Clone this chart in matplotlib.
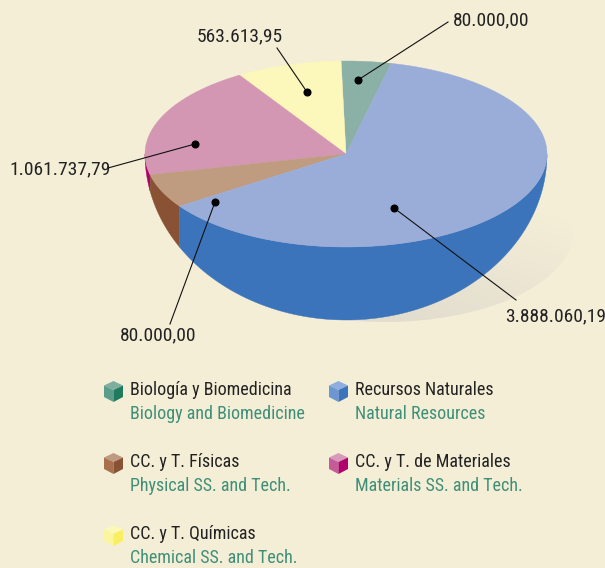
import numpy as np
import matplotlib
matplotlib.use("Agg")
import matplotlib.pyplot as plt
from matplotlib.colors import LinearSegmentedColormap
from matplotlib.patches import Ellipse, Polygon

# slices, counter-clockwise from the right edge of the green one
categories = ["Biología y Biomedicina", "CC. y T. Químicas", "CC. y T. de Materiales",
              "CC. y T. Físicas", "Recursos Naturales"]
categories_en = ["Biology and Biomedicine", "Chemical SS. and Tech.", "Materials SS. and Tech.",
                 "Physical SS. and Tech.", "Natural Resources"]
value_labels = ["80.000,00", "563.613,95", "1.061.737,79", "80.000,00", "3.888.060,19"]
# share of the ellipse as drawn in the picture (%), it does not follow the labels exactly
drawn_share = [4.0, 8.5, 19.7, 5.9, 61.9]
start_angle = 77

top_colors = ["#8BB0A5", "#FCF7BA", "#D497B3", "#BF9B80", "#9AADD8"]
wall_colors = ["#1F7A5E", "#F8F060", "#B0006E", "#8A5235", "#3B74BB"]
cube_top = ["#7EAE9F", "#FCF8B8", "#D79ABB", "#BE9A80", "#8FAEDD"]
cube_left = ["#5C9C8A", "#FBF5A0", "#C45C98", "#A8704F", "#6E96D2"]

BG = "#F4EED7"
CX, CY, RX, RY, RY_BOTTOM = 346, 154, 201, 93, 166
FONT = ["Roboto Condensed", "Open Sans Condensed", "Liberation Sans"]

fig = plt.figure(figsize=(6.05, 5.68), dpi=100, facecolor=BG)
ax = fig.add_axes([0, 0, 1, 1])
ax.axis("off")

# shadow under the bowl
shadow = Ellipse((385, 232), 376, 180, facecolor="none", edgecolor="none")
ax.add_patch(shadow)
grad_x, grad_y = np.meshgrid(np.linspace(0, 1, 200), np.linspace(0, 1, 200))
img = ax.imshow(grad_y - 0.7 * grad_x, extent=(197, 573, 322, 142),
                cmap=LinearSegmentedColormap.from_list("shadow", [BG, "#E2DDCE"]),
                vmin=-0.25, vmax=0.6, aspect="auto", zorder=1)
img.set_clip_path(shadow)
ax.set_xlim(0, 605)
ax.set_ylim(568, 0)

ends = start_angle + np.cumsum(drawn_share) * 3.6
starts = np.r_[start_angle, ends[:-1]]

for a0, a1, top, wall in zip(starts, ends, top_colors, wall_colors):
    t = np.radians(np.linspace(a0, a1, 200))
    # wall is only seen on the lower half
    low = t[np.sin(t) <= 0]
    if len(low) > 1:
        xs = CX + RX * np.cos(low)
        upper = CY - RY * np.sin(low)
        lower = CY - RY_BOTTOM * np.sin(low)
        ax.fill(np.r_[xs, xs[::-1]], np.r_[upper, lower[::-1]], color=wall, lw=0.3, zorder=2)
    ax.fill(np.r_[CX, CX + RX * np.cos(t)], np.r_[CY, CY - RY * np.sin(t)], color=top, lw=0.3, zorder=3)

# dot, end of the leader, text position
dots = [(358, 80), (307, 92), (195, 144), (215, 202), (394, 208)]
leader_ends = [(448, 22), (277, 48), (108, 168), (170, 324), (516, 300)]
text_pos = [(453, 20), (197, 36), (9, 169), (120, 335), (505, 316)]
for label, dot, end, pos in zip(value_labels, dots, leader_ends, text_pos):
    ax.plot([dot[0], end[0]], [dot[1], end[1]], color="#111111", lw=0.8, zorder=5)
    ax.plot(*dot, "o", color="black", ms=4.8, zorder=6)
    ax.text(pos[0], pos[1], label, family=FONT, fontsize=14, color="#222222", va="center", ha="left", zorder=6)

# legend order is not the slice order
legend_order = [0, 4, 3, 2, 1]
legend_pos = [(104, 381), (329, 381), (104, 453), (329, 453), (104, 525)]
for i, (x, y) in zip(legend_order, legend_pos):
    ax.add_patch(Polygon([(x, y + 4.5), (x + 9.5, y), (x + 19, y + 4.5), (x + 9.5, y + 9)], color=cube_top[i], lw=0))
    ax.add_patch(Polygon([(x, y + 4.5), (x + 9.5, y + 9), (x + 9.5, y + 21), (x, y + 16)], color=cube_left[i], lw=0))
    ax.add_patch(Polygon([(x + 9.5, y + 9), (x + 19, y + 4.5), (x + 19, y + 16), (x + 9.5, y + 21)], color=wall_colors[i], lw=0))
    ax.text(x + 26, y + 9, categories[i], family=FONT, fontsize=13, color="#222222", va="center", ha="left")
    ax.text(x + 26, y + 33, categories_en[i], family=FONT, fontsize=13, color="#3F8F78", va="center", ha="left")

fig.savefig("out.png", dpi=100, facecolor=BG)
